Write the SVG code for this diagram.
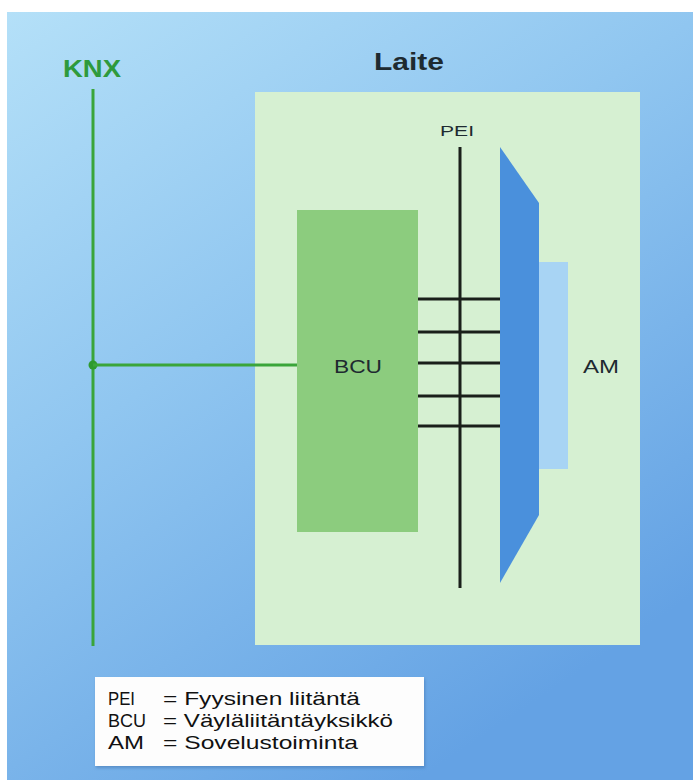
<svg xmlns="http://www.w3.org/2000/svg" width="693" height="780" viewBox="0 0 693 780">
  <defs>
    <linearGradient id="bg" x1="0" y1="0" x2="0.6" y2="1">
      <stop offset="0" stop-color="#b4e0f8"/>
      <stop offset="0.45" stop-color="#90c6f0"/>
      <stop offset="1" stop-color="#64a2e4"/>
    </linearGradient>
    <filter id="sh" x="-5%" y="-5%" width="110%" height="115%">
      <feDropShadow dx="1" dy="2" stdDeviation="1.5" flood-color="#3a6ea8" flood-opacity="0.5"/>
    </filter>
  </defs>
  <style>
    .lbl { font-family: "Liberation Sans", Arial, sans-serif; fill: #1e2a30; }
    .bold { font-weight: bold; }
    .bus { stroke: #3aa53a; stroke-width: 3; fill: none; }
    .bar { stroke: #1a1f1a; stroke-width: 3; fill: none; }
    .leg { font-family: "Liberation Sans", Arial, sans-serif; font-size: 19px; fill: #111; }
  </style>

  <rect x="0" y="0" width="693" height="780" fill="#ffffff"/>
  <rect x="7" y="12" width="686" height="768" fill="url(#bg)"/>

  <g id="laite">
    <rect x="255" y="92" width="385" height="553" fill="#d6f0d2"/>
    <text class="lbl bold" x="409" y="70" font-size="23" text-anchor="middle" textLength="70" lengthAdjust="spacingAndGlyphs" fill="#18253a">Laite</text>
  </g>

  <g id="knx">
    <text class="bold" x="92" y="77" font-size="24" text-anchor="middle" textLength="58" lengthAdjust="spacingAndGlyphs" font-family="Liberation Sans, Arial, sans-serif" fill="#2e9a3c">KNX</text>
    <line class="bus" x1="93" y1="89" x2="93" y2="646"/>
    <circle cx="93" cy="365" r="4.5" fill="#2e9a2e"/>
  </g>

  <g id="bcu">
    <rect x="297" y="210" width="121" height="322" fill="#8ccc7e"/>
    <text class="lbl" x="358" y="373" font-size="19" text-anchor="middle" textLength="48" lengthAdjust="spacingAndGlyphs">BCU</text>
  </g>

  <g id="pei">
    <text class="lbl" x="457" y="136" font-size="15" text-anchor="middle" textLength="34" lengthAdjust="spacingAndGlyphs">PEI</text>
    <line class="bar" x1="460" y1="147" x2="460" y2="588"/>
  </g>

  <g id="interface">
    <polygon points="500,147 539,203 539,515 500,583" fill="#4a90dc"/>
  </g>

  <g id="am">
    <rect x="539" y="262" width="29" height="207" fill="#a8d4f4"/>
    <text class="lbl" x="601" y="373" font-size="19" text-anchor="middle" textLength="36" lengthAdjust="spacingAndGlyphs">AM</text>
  </g>

  <g id="connectors">
    <line class="bus" x1="93" y1="365" x2="297" y2="365"/>
    <line class="bar" x1="418" y1="299" x2="500" y2="299"/>
    <line class="bar" x1="418" y1="332" x2="500" y2="332"/>
    <line class="bar" x1="418" y1="363" x2="500" y2="363"/>
    <line class="bar" x1="418" y1="396" x2="500" y2="396"/>
    <line class="bar" x1="418" y1="426" x2="500" y2="426"/>
  </g>

  <g id="legend">
    <rect x="95" y="677" width="329" height="89" fill="#fdfdfd" filter="url(#sh)"/>
    <text class="leg" x="108" y="705" textLength="27" lengthAdjust="spacingAndGlyphs">PEI</text>
    <text class="leg" x="108" y="727" textLength="38" lengthAdjust="spacingAndGlyphs">BCU</text>
    <text class="leg" x="108" y="749" textLength="36" lengthAdjust="spacingAndGlyphs">AM</text>
    <text class="leg" x="163" y="705" textLength="197" lengthAdjust="spacingAndGlyphs">= Fyysinen liitäntä</text>
    <text class="leg" x="163" y="727" textLength="230" lengthAdjust="spacingAndGlyphs">= Väyläliitäntäyksikkö</text>
    <text class="leg" x="163" y="749" textLength="195" lengthAdjust="spacingAndGlyphs">= Sovelustoiminta</text>
  </g>
</svg>
